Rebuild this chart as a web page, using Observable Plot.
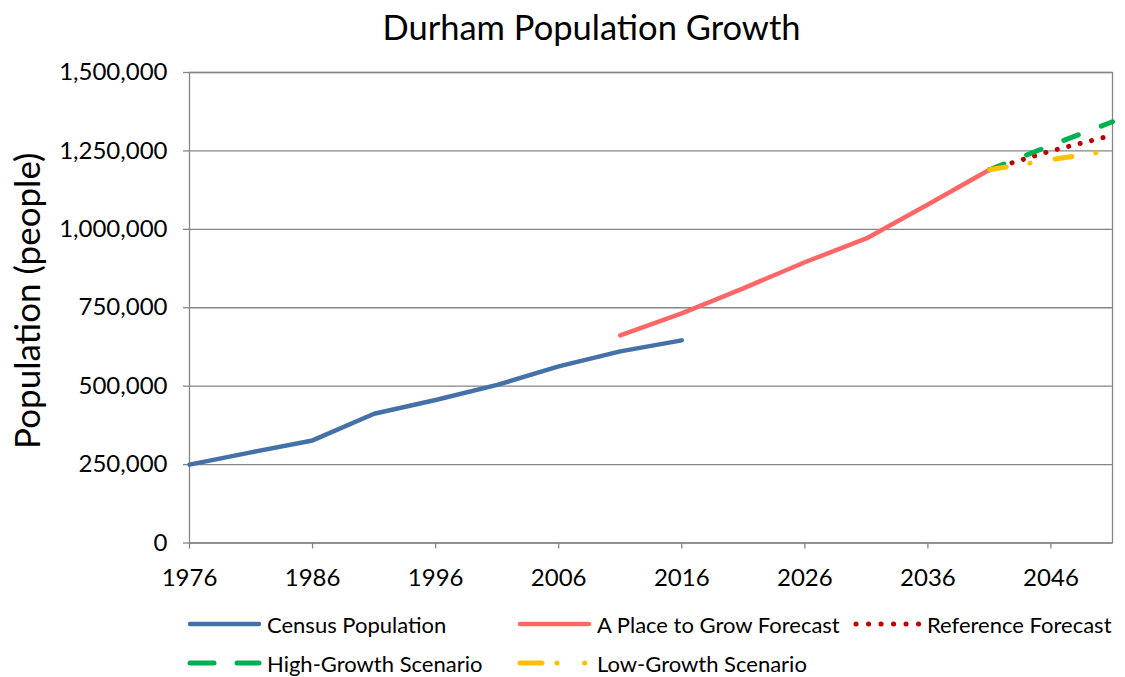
<!DOCTYPE html>
<html>
<head>
<meta charset="utf-8">
<script src="https://cdn.jsdelivr.net/npm/d3@7"></script>
<script src="https://cdn.jsdelivr.net/npm/@observablehq/plot@0.6"></script>
<style>
  html, body { margin: 0; padding: 0; background: #fff; }
  body { width: 1125px; height: 677px; overflow: hidden; font-family: Lato, "Open Sans", sans-serif; color: #000; }
  #title { height: 54px; line-height: 54px; font-size: 34.5px; text-align: center; padding-left: 58px; box-sizing: border-box; width: 1125px; }
  #chart svg { display: block; }
  #legend { position: relative; height: 77px; width: 1125px; font-size: 22px; }
  .item { position: absolute; display: flex; align-items: center; height: 30px; white-space: nowrap; }
  .item svg { display: block; margin-right: 5px; }
</style>
</head>
<body>
<div id="title"></div>
<div id="chart"></div>
<div id="legend"></div>
<script>
const chartTitle = "Durham Population Growth";
const yTitle = ["Population (people)"];

const censusYears = [1976, 1981, 1986, 1991, 1996, 2001, 2006, 2011, 2016];
const censusPop   = [250000, 289000, 327000, 412000, 456000, 504000, 563000, 611000, 646000];

const forecastYears = [2011, 2016, 2021, 2026, 2031, 2036, 2041];
const forecastPop   = [662000, 732000, 812000, 895000, 971000, 1079000, 1190000];

const scenarioYears = [2041, 2046, 2051];
const referencePop  = [1190000, 1250000, 1300000];
const highPop       = [1190000, 1268000, 1343000];
const lowPop        = [1190000, 1222000, 1252000];

const xTicks = [1976, 1986, 1996, 2006, 2016, 2026, 2036, 2046];
const yTicks = [0, 250000, 500000, 750000, 1000000, 1250000, 1500000];

const seriesNames = ["Census Population", "A Place to Grow Forecast", "Reference Forecast", "High-Growth Scenario", "Low-Growth Scenario"];
const seriesColors = ["#4571A9", "#FF6666", "#C00000", "#00B050", "#FFC000"];

const toRows = (xs, ys) => xs.map((x, i) => ({year: x, pop: ys[i]}));
const census = toRows(censusYears, censusPop);
const forecast = toRows(forecastYears, forecastPop);
const reference = toRows(scenarioYears, referencePop);
const high = toRows(scenarioYears, highPop);
const low = toRows(scenarioYears, lowPop);

const grey = "#868686";
const styles = [
  {stroke: seriesColors[0], strokeWidth: 4.5},
  {stroke: seriesColors[1], strokeWidth: 4.5},
  {stroke: seriesColors[2], strokeWidth: 5, strokeDasharray: "0.1,11.7"},
  {stroke: seriesColors[3], strokeWidth: 5, strokeDasharray: "15.5,24.5"},
  {stroke: seriesColors[4], strokeWidth: 5, strokeDasharray: "17,24,0.1,25.5"}
];

document.getElementById("title").textContent = chartTitle;

const chart = Plot.plot({
  width: 1125,
  height: 546,
  marginTop: 18,
  marginBottom: 57.5,
  marginLeft: 189,
  marginRight: 13,
  style: {fontFamily: "Lato, 'Open Sans', sans-serif", fontSize: "24px", color: "#000", background: "#fff"},
  x: {domain: [1976, 2051]},
  y: {domain: [0, 1500000]},
  marks: [
    Plot.gridY(yTicks, {stroke: grey, strokeOpacity: 1, strokeWidth: 1.3}),
    Plot.frame({stroke: grey, strokeWidth: 1.3}),
    Plot.axisX({ticks: xTicks, tickFormat: d => String(d), tickSize: 6, tickPadding: 19.5, stroke: grey, strokeWidth: 1.3, label: null, fontSize: 24}),
    Plot.axisY({ticks: yTicks, tickFormat: d3.format(","), tickSize: 6, tickPadding: 16, stroke: grey, strokeWidth: 1.3, label: null, fontSize: 24}),
    Plot.text(yTitle, {text: d => d, frameAnchor: "left", textAnchor: "middle", rotate: -90, dx: -161, dy: -7, fontSize: 35, fill: "#000"}),
    Plot.line(census, {x: "year", y: "pop", ...styles[0], strokeLinecap: "round", strokeLinejoin: "round"}),
    Plot.line(forecast, {x: "year", y: "pop", ...styles[1], strokeLinecap: "round", strokeLinejoin: "round"}),
    Plot.line(reference, {x: "year", y: "pop", ...styles[2], strokeLinecap: "round", strokeLinejoin: "round"}),
    Plot.line(high, {x: "year", y: "pop", ...styles[3], strokeLinecap: "round", strokeLinejoin: "round"}),
    Plot.line(low, {x: "year", y: "pop", ...styles[4], strokeLinecap: "round", strokeLinejoin: "round"})
  ]
});
document.getElementById("chart").appendChild(chart);

// Legend
const legendPos = [
  {left: 187, top: 9, w: 75},
  {left: 517, top: 9, w: 75},
  {left: 853, top: 9, w: 69},
  {left: 187, top: 48, w: 75},
  {left: 517, top: 48, w: 75}
];
const legend = document.getElementById("legend");
seriesNames.forEach((name, i) => {
  const p = legendPos[i];
  const div = document.createElement("div");
  div.className = "item";
  div.style.left = p.left + "px";
  div.style.top = p.top + "px";
  const ns = "http://www.w3.org/2000/svg";
  const svg = document.createElementNS(ns, "svg");
  svg.setAttribute("width", p.w);
  svg.setAttribute("height", 12);
  const ln = document.createElementNS(ns, "line");
  ln.setAttribute("x1", 3); ln.setAttribute("x2", p.w - 3);
  ln.setAttribute("y1", 6); ln.setAttribute("y2", 6);
  ln.setAttribute("stroke", styles[i].stroke);
  ln.setAttribute("stroke-width", styles[i].strokeWidth);
  ln.setAttribute("stroke-linecap", "round");
  if (i === 2) ln.setAttribute("stroke-dasharray", "0.1,12.4");
  if (i === 3) ln.setAttribute("stroke-dasharray", "24,23");
  if (i === 4) ln.setAttribute("stroke-dasharray", "22,15,0.1,27.5,0.1,40");
  svg.appendChild(ln);
  div.appendChild(svg);
  const span = document.createElement("span");
  span.textContent = name;
  div.appendChild(span);
  legend.appendChild(div);
});
</script>
</body>
</html>
